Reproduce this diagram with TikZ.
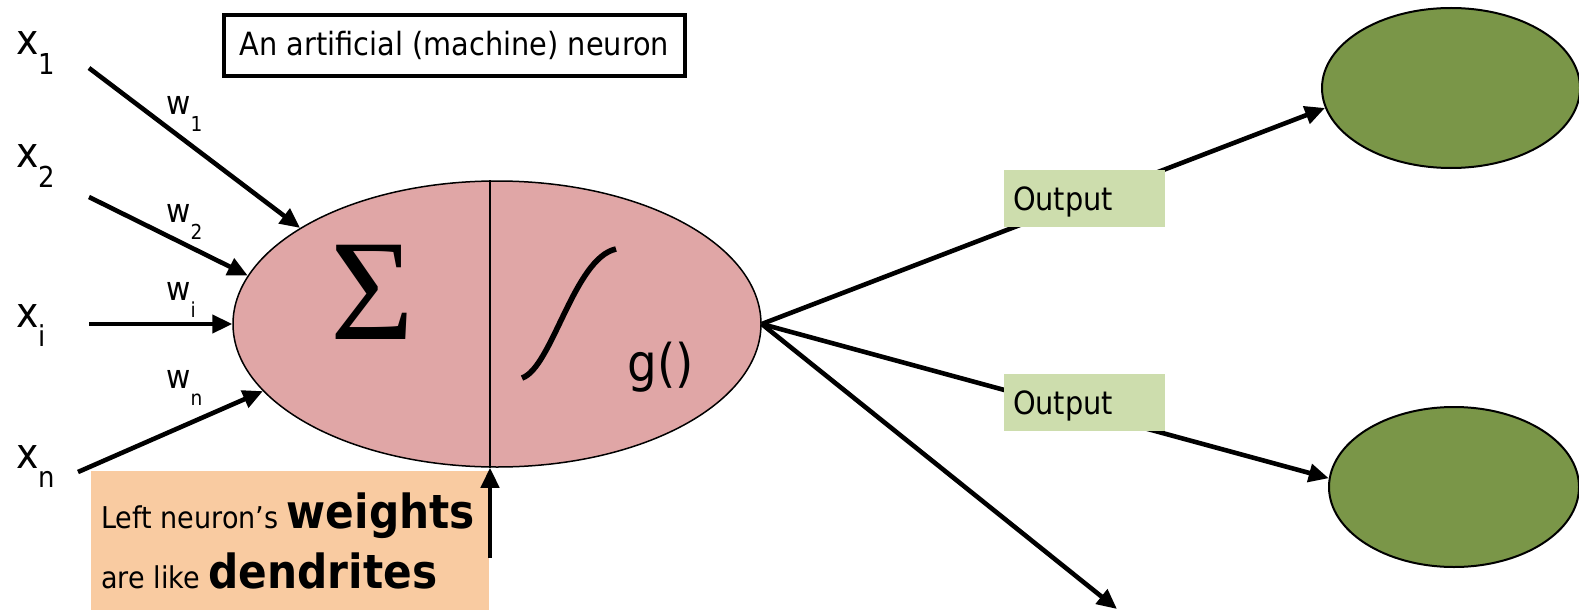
\documentclass[tikz,border=0pt]{standalone}
\usepackage{fontspec}
\setsansfont{DejaVu Sans}[FakeStretch=0.9]
\newfontfamily\sigmafont{Liberation Serif}
\usepackage{tikz}
\usetikzlibrary{shapes.geometric,arrows.meta}
\definecolor{rosa}      {RGB}{224,166,166}
\definecolor{oliva}     {RGB}{122,150,72}
\definecolor{verdeclaro}{RGB}{205,221,173}
\definecolor{melocoton} {RGB}{249,203,161}

\begin{document}
\begin{tikzpicture}[   % opciones por defecto
      x=0.5pt, y=-0.5pt,   % una unidad = medio punto, y crece hacia abajo
      line width=2.3pt,    % lineas gruesas
      -{Triangle[length=10pt,width=9pt]}, % estilo de flecha al final
      font=\sffamily
    ]
    \tikzstyle{entrada}=[anchor=base west, inner sep=0pt, font=\sffamily\fontsize{21}{21}\selectfont];
    \tikzstyle{weight}=[anchor=base west, inner sep=0pt, font=\sffamily\fontsize{16.5}{16.5}\selectfont];
    \tikzstyle{neurona}=[ellipse, draw, fill=rosa, line width=0.75pt, inner sep=0pt,
                         minimum width=264pt, minimum height=143pt];
    \tikzstyle{siguiente}=[ellipse, draw, fill=oliva, line width=1pt, inner sep=0pt,
                           minimum height=80pt];
    \tikzstyle{salida}=[fill=verdeclaro, minimum width=80.5pt, minimum height=28.5pt,
                        text width=71.5pt, inner xsep=4.5pt, inner ysep=0pt, align=left,
                        text depth=0pt, font=\sffamily\fontsize{16}{16}\selectfont];
    \tikzstyle{texto}=[anchor=base west, inner sep=0pt, font=\sffamily\fontsize{23.5}{23.5}\selectfont];
    %
    \useasboundingbox (0,0) rectangle (1579,610);
    %
    % titulo
    \node [draw, line width=2pt, minimum width=230.5pt, minimum height=30.5pt, inner sep=0pt,
           font=\sffamily\fontsize{16}{16}\selectfont] (titulo) at (454.5,45.5)
      {An artificial (machine) neuron};
    %
    % neurona: suma y activacion
    \node [neurona] (neuron) at (497,324) {};
    \coordinate (corte) at (490,0);
    \draw [-, line width=0.75pt] (neuron.north -| corte) -- (neuron.south -| corte);
    \node [anchor=base, inner sep=0pt, font=\sigmafont\fontsize{72}{72}\selectfont] (suma) at (372,339) {Σ};
    \draw [-, line width=2.8pt] (522,378) .. controls (552,368) and (574,258) .. (616,249);
    \node [anchor=base west, inner sep=0pt, font=\sffamily\fontsize{26}{26}\selectfont] (activ) at (625,381) {g()};
    %
    % entradas, pesos y conexiones entrada - suma
    \foreach \i/\yx/\xs/\ys/\ang/\yw in {1/55/89/68/154/115, 2/168/89/197/169/222,
                                         i/327/89/324/180/300, n/468/78/472/196/388} {
      \node [entrada] (x\i) at (14,\yx) {x\lower9.5pt\hbox{\fontsize{14.4}{14.4}\selectfont \i}};
      \node [weight] (w\i) at (164,\yw) {w\lower8.5pt\hbox{\fontsize{10.3}{10.3}\selectfont \i}};
      \coordinate (s\i) at (\xs,\ys);
      \draw (s\i) -- (neuron.\ang);
    }
    %
    % neuronas siguientes
    \node [siguiente, minimum width=129pt] (next1) at (1451,88) {};
    \node [siguiente, minimum width=125pt] (next2) at (1454,487) {};
    %
    % salidas
    \coordinate (fuera) at (1117,609);
    \draw (neuron.east) -- (next1.189);
    \draw (neuron.east) -- (next2.176);
    \draw (neuron.east) -- (fuera);
    \node [salida] (out1) at (1084.5,198.5) {Output};
    \node [salida] (out2) at (1084.5,402.5) {Output};
    %
    % nota de las dendritas
    \node [fill=melocoton, inner sep=0pt, minimum width=199pt, minimum height=71pt,
           anchor=north west] (nota) at (89,469) {};
    \node [texto] (linea1) at (99,528) {{\fontsize{15}{15}\selectfont Left neuron’s }\textbf{weights}};
    \node [texto] (linea2) at (99,588) {{\fontsize{15}{15}\selectfont are like }\textbf{dendrites}};
    \coordinate (dendrita) at (490,558);
    \draw (dendrita) -- (neuron.south -| corte);
  \end{tikzpicture}
\end{document}
